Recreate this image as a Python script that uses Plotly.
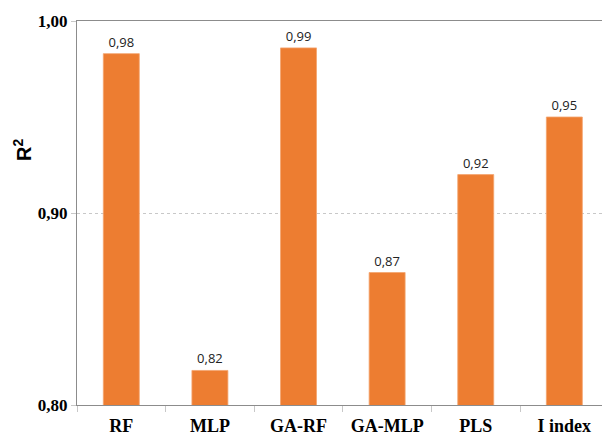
import plotly.graph_objects as go

# Model names and their coefficient of determination
models = ["RF", "MLP", "GA-RF", "GA-MLP", "PLS", "I index"]
r2_values = [0.983, 0.818, 0.986, 0.869, 0.920, 0.950]
y_ticks = [0.80, 0.90, 1.00]

fig = go.Figure(
    go.Bar(
        x=models,
        y=r2_values,
        marker=dict(color="#ED7D31", line=dict(color="#F4A46E", width=0.8)),
        texttemplate="%{y:.2f}",
        textposition="outside",
        textfont=dict(family="Open Sans, Liberation Sans, sans-serif", size=13, color="#222222"),
        cliponaxis=False,
    )
)

fig.update_layout(
    width=602,
    height=435,
    margin=dict(l=77, r=0, t=21, b=30),
    paper_bgcolor="white",
    plot_bgcolor="white",
    separators=",.",
    bargap=0.594,
    showlegend=False,
    xaxis=dict(
        range=[-0.5, 5.425],
        showline=True,
        linecolor="#8c8c8c",
        linewidth=1.3,
        mirror=True,
        ticks="outside",
        tickson="boundaries",
        ticklen=6,
        tickcolor="#c8c8c8",
        ticklabelstandoff=4,
        tickfont=dict(family="Liberation Serif, serif", size=18, color="black", weight="bold"),
        showgrid=False,
    ),
    yaxis=dict(
        range=[0.80, 1.00],
        tickvals=y_ticks,
        tickformat=".2f",
        showline=True,
        linecolor="#8c8c8c",
        linewidth=1.3,
        ticks="outside",
        ticklen=5,
        tickcolor="#c8c8c8",
        tickfont=dict(family="Liberation Serif, serif", size=17, color="black", weight="bold"),
        showgrid=True,
        gridcolor="#c8c8c8",
        griddash="dot",
        gridwidth=1,
        zeroline=False,
    ),
    annotations=[
        dict(
            text="R<sup>2</sup>",
            xref="paper",
            yref="paper",
            x=-0.105,
            y=0.664,
            xanchor="center",
            yanchor="middle",
            textangle=-90,
            showarrow=False,
            font=dict(family="Liberation Sans, Arial, sans-serif", size=20, color="black", weight="bold"),
        )
    ],
)

fig.write_html("out.html")
